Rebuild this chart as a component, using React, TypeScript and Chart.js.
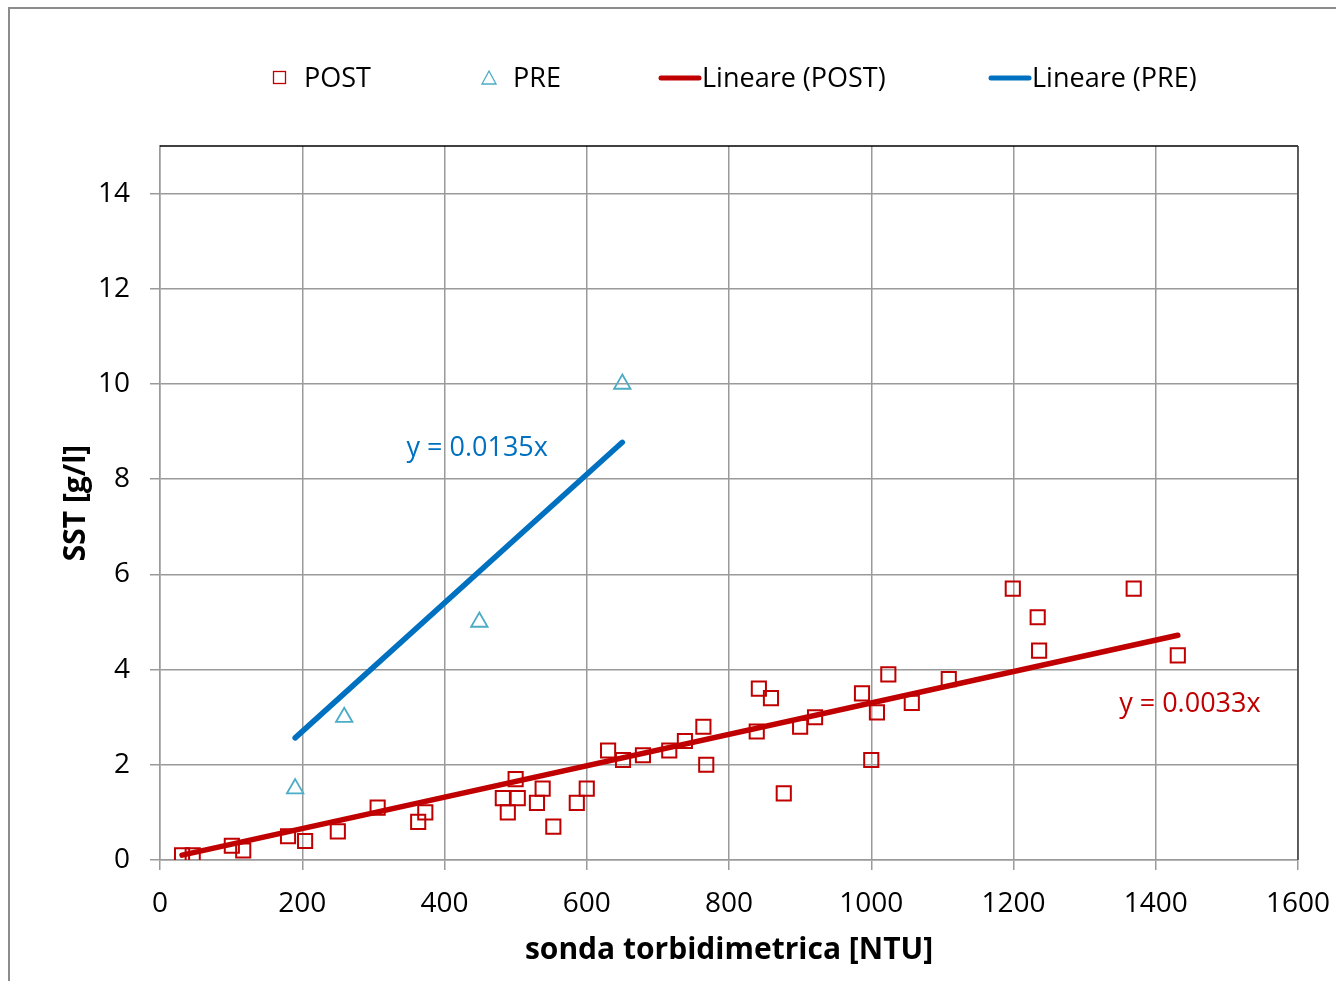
import React, { useEffect, useRef } from "react";
import { Chart, registerables } from "chart.js";

Chart.register(...registerables);

// ---- data ----
const postX = [31, 46, 101, 117, 180, 204, 250, 306, 363, 373, 482, 489, 500, 503, 530, 538, 553, 586, 600, 630, 651, 679, 716, 738, 764, 768, 839, 842, 859, 877, 900, 921, 987, 1000, 1008, 1024, 1057, 1109, 1199, 1234, 1236, 1369, 1431];
const postY = [0.1, 0.1, 0.3, 0.2, 0.5, 0.4, 0.6, 1.1, 0.8, 1.0, 1.3, 1.0, 1.7, 1.3, 1.2, 1.5, 0.7, 1.2, 1.5, 2.3, 2.1, 2.2, 2.3, 2.5, 2.8, 2.0, 2.7, 3.6, 3.4, 1.4, 2.8, 3.0, 3.5, 2.1, 3.1, 3.9, 3.3, 3.8, 5.7, 5.1, 4.4, 5.7, 4.3];
const preX = [190, 259, 449, 650];
const preY = [1.5, 3.0, 5.0, 10.0];
const postSlope = 0.0033;
const preSlope = 0.0135;
const seriesLabels = ["POST", "PRE", "Lineare (POST)", "Lineare (PRE)"];
const equationLabels = ["y = 0.0033x", "y = 0.0135x"];
const equationPos = [
  { x: 1448, y: 3.28 },
  { x: 446, y: 8.65 },
];
const xTicks = [0, 200, 400, 600, 800, 1000, 1200, 1400, 1600];
const yTicks = [0, 2, 4, 6, 8, 10, 12, 14];
const xTitle = "sonda torbidimetrica [NTU]";
const yTitle = "SST [g/l]";

const RED = "#C00000";
const BLUE = "#0070C0";
const LIGHTBLUE = "#4BACC6";
const GRID = "#9a9a9a";
const FONT = '"Open Sans", "Noto Sans", sans-serif';

const toPts = (xs: number[], ys: number[]) => xs.map((x, i) => ({ x, y: ys[i] }));
const trend = (xs: number[], slope: number) => {
  const lo = Math.min(...xs);
  const hi = Math.max(...xs);
  return [
    { x: lo, y: slope * lo },
    { x: hi, y: slope * hi },
  ];
};

const framePlugin = {
  id: "frame",
  beforeDraw(chart: any) {
    const ctx = chart.ctx;
    ctx.save();
    ctx.fillStyle = "#ffffff";
    ctx.fillRect(0, 0, chart.width, chart.height);
    ctx.strokeStyle = "#8c8c8c";
    ctx.lineWidth = 2;
    ctx.beginPath();
    ctx.moveTo(9, chart.height);
    ctx.lineTo(9, 8);
    ctx.lineTo(chart.width, 8);
    ctx.stroke();
    ctx.restore();
  },
  afterDatasetsDraw(chart: any) {
    const { ctx, chartArea: a } = chart;
    ctx.save();
    ctx.strokeStyle = "#000000";
    ctx.lineWidth = 1.5;
    ctx.beginPath();
    ctx.moveTo(a.left, a.top);
    ctx.lineTo(a.right, a.top);
    ctx.stroke();
    ctx.strokeStyle = "#404040";
    ctx.beginPath();
    ctx.moveTo(a.right, a.top);
    ctx.lineTo(a.right, a.bottom);
    ctx.stroke();
    ctx.restore();
  },
};

const annotationPlugin = {
  id: "equations",
  afterDraw(chart: any) {
    const { ctx, scales } = chart;
    ctx.save();
    ctx.font = `27px ${FONT}`;
    ctx.textAlign = "center";
    ctx.textBaseline = "middle";
    const colors = [RED, BLUE];
    equationLabels.forEach((t, i) => {
      ctx.fillStyle = colors[i];
      ctx.fillText(t, scales.x.getPixelForValue(equationPos[i].x), scales.y.getPixelForValue(equationPos[i].y));
    });
    ctx.restore();
  },
};

const legendPlugin = {
  id: "customLegend",
  afterDraw(chart: any) {
    const ctx = chart.ctx;
    const y = 78;
    ctx.save();
    ctx.font = `27px ${FONT}`;
    ctx.textBaseline = "middle";
    ctx.textAlign = "left";
    // POST square
    ctx.strokeStyle = RED;
    ctx.lineWidth = 1.3;
    ctx.strokeRect(273.5, 71.5, 12, 12);
    ctx.fillStyle = "#000";
    ctx.fillText(seriesLabels[0], 304, y + 1);
    // PRE triangle
    ctx.strokeStyle = LIGHTBLUE;
    ctx.beginPath();
    ctx.moveTo(489, 71);
    ctx.lineTo(496, 84);
    ctx.lineTo(482, 84);
    ctx.closePath();
    ctx.stroke();
    ctx.fillText(seriesLabels[1], 513, y + 1);
    // trend lines
    ctx.lineWidth = 5;
    ctx.lineCap = "round";
    ctx.strokeStyle = RED;
    ctx.beginPath();
    ctx.moveTo(661, y);
    ctx.lineTo(699, y);
    ctx.stroke();
    ctx.fillText(seriesLabels[2], 702, y + 1);
    ctx.strokeStyle = BLUE;
    ctx.beginPath();
    ctx.moveTo(991, y);
    ctx.lineTo(1029, y);
    ctx.stroke();
    ctx.fillText(seriesLabels[3], 1032, y + 1);
    ctx.restore();
  },
};

export default function App() {
  const ref = useRef<HTMLCanvasElement>(null);
  useEffect(() => {
    document.body.style.margin = "0";
    const canvas = ref.current!;
    const chart = new Chart(canvas, {
      type: "scatter",
      data: {
        datasets: [
          {
            label: seriesLabels[2],
            data: trend(postX, postSlope),
            showLine: true,
            borderColor: RED,
            borderWidth: 5.5,
            pointRadius: 0,
            borderCapStyle: "round",
            order: 0,
          },
          {
            label: seriesLabels[3],
            data: trend(preX, preSlope),
            showLine: true,
            borderColor: BLUE,
            borderWidth: 5.5,
            pointRadius: 0,
            borderCapStyle: "round",
            order: 0,
          },
          {
            label: seriesLabels[0],
            data: toPts(postX, postY),
            pointStyle: "rect",
            pointRadius: 10,
            borderColor: RED,
            backgroundColor: "rgba(0,0,0,0)",
            borderWidth: 2,
            order: 1,
          },
          {
            label: seriesLabels[1],
            data: toPts(preX, preY),
            pointStyle: "triangle",
            pointRadius: 9.5,
            borderColor: LIGHTBLUE,
            backgroundColor: "rgba(0,0,0,0)",
            borderWidth: 1.8,
            order: 1,
          },
        ] as any,
      },
      options: {
        animation: false,
        responsive: false,
        events: [],
        layout: { padding: { left: 0, top: 146, right: 38, bottom: 0 } },
        plugins: { legend: { display: false }, tooltip: { enabled: false } },
        scales: {
          x: {
            type: "linear",
            min: 0,
            max: 1600,
            afterFit: (s: any) => {
              s.height = 121;
              s.paddingRight = 0;
              s.paddingLeft = 0;
            },
            afterBuildTicks: (s: any) => {
              s.ticks = xTicks.map((v) => ({ value: v }));
            },
            ticks: {
              font: { family: FONT, size: 28 },
              color: "#000",
              padding: 17,
              maxRotation: 0,
              callback: (v: any) => String(v),
            },
            grid: { color: GRID, lineWidth: 1.5, tickLength: 10, tickColor: GRID },
            border: { color: GRID, width: 1.5 },
            title: {
              display: true,
              text: xTitle,
              font: { family: FONT, size: 30, weight: "bold" },
              color: "#000",
              padding: { top: 0, bottom: 13 },
            },
          },
          y: {
            type: "linear",
            min: 0,
            max: 15,
            afterFit: (s: any) => {
              s.width = 160;
              s.paddingTop = 0;
              s.paddingBottom = 0;
            },
            afterBuildTicks: (s: any) => {
              s.ticks = yTicks.map((v) => ({ value: v }));
            },
            ticks: {
              font: { family: FONT, size: 28 },
              color: "#000",
              padding: 20,
              callback: (v: any) => String(v),
            },
            grid: { color: GRID, lineWidth: 1.5, tickLength: 10, tickColor: GRID },
            border: { color: GRID, width: 1.5 },
            title: {
              display: true,
              text: yTitle,
              font: { family: FONT, size: 30, weight: "bold" },
              color: "#000",
              padding: { top: 58, bottom: 0 },
            },
          },
        },
      } as any,
      plugins: [framePlugin, annotationPlugin, legendPlugin],
    });
    return () => chart.destroy();
  }, []);
  return <canvas ref={ref} width={1336} height={981} style={{ display: "block" }} />;
}
